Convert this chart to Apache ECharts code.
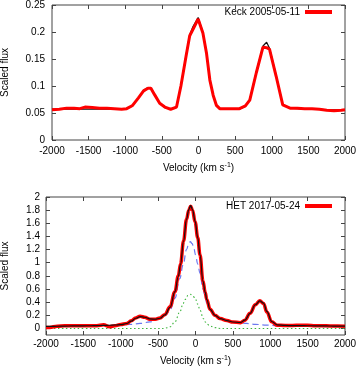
<!DOCTYPE html>
<html><head><meta charset="utf-8">
<script src="https://cdn.jsdelivr.net/npm/echarts@6/dist/echarts.min.js"></script>
<style>html,body{margin:0;padding:0;background:#fff}#c{width:357px;height:367px}</style>
</head><body><div id="c"></div>
<script>
var velTicks = [-2000,-1500,-1000,-500,0,500,1000,1500,2000];
var keckYTicks = [0,0.05,0.1,0.15,0.2,0.25];
var hetYTicks = [0,0.2,0.4,0.6,0.8,1,1.2,1.4,1.6,1.8,2];

var keckLabel = 'Keck 2005-05-11';
var hetLabel = 'HET 2017-05-24';

var keckVel = [-2000,-1900,-1800,-1700,-1620,-1550,-1450,-1350,-1250,-1150,-1050,-980,-900,-820,-750,-690,-650,-600,-530,-460,-380,-300,-240,-170,-120,-75,-5,60,110,155,200,245,290,380,470,560,640,700,790,880,930,970,1060,1150,1250,1350,1450,1550,1650,1750,1850,1950,2000];
var keckFlux = [0.056,0.057,0.059,0.059,0.058,0.061,0.060,0.059,0.059,0.058,0.057,0.058,0.064,0.078,0.091,0.096,0.096,0.084,0.068,0.061,0.057,0.061,0.100,0.155,0.193,0.205,0.224,0.198,0.160,0.111,0.083,0.064,0.058,0.058,0.058,0.058,0.063,0.074,0.125,0.172,0.171,0.168,0.118,0.065,0.059,0.059,0.058,0.058,0.057,0.055,0.054,0.055,0.056];
var keckModel = [0.057,0.057,0.057,0.057,0.057,0.057,0.057,0.057,0.057,0.057,0.057,0.058,0.063,0.078,0.092,0.097,0.096,0.085,0.068,0.060,0.057,0.062,0.102,0.157,0.195,0.210,0.227,0.200,0.162,0.113,0.082,0.063,0.058,0.057,0.057,0.057,0.062,0.075,0.127,0.174,0.181,0.170,0.120,0.066,0.059,0.058,0.057,0.057,0.057,0.056,0.056,0.056,0.056];

var hetVel = [-2000,-1950,-1850,-1750,-1650,-1500,-1400,-1320,-1230,-1150,-1080,-1000,-920,-860,-800,-740,-680,-610,-540,-475,-410,-340,-275,-230,-200,-160,-120,-90,-65,-40,-5,30,60,100,130,150,195,260,330,420,500,600,660,730,800,860,910,955,1020,1090,1200,1300,1400,1500,1600,1700,1800,1900,2000];
var hetFlux = [0.015,0.015,0.035,0.04,0.04,0.04,0.04,0.042,0.055,0.025,0.04,0.06,0.075,0.115,0.16,0.185,0.17,0.14,0.14,0.16,0.21,0.33,0.56,0.80,0.98,1.33,1.66,1.80,1.86,1.80,1.62,1.38,1.12,0.72,0.55,0.44,0.29,0.20,0.15,0.12,0.097,0.088,0.125,0.23,0.36,0.42,0.38,0.25,0.10,0.05,0.045,0.045,0.048,0.05,0.042,0.04,0.038,0.036,0.035];
var hetModel = [0.03,0.03,0.033,0.036,0.038,0.04,0.041,0.043,0.046,0.048,0.052,0.058,0.075,0.11,0.155,0.18,0.17,0.145,0.14,0.155,0.205,0.32,0.56,0.79,0.98,1.33,1.66,1.81,1.87,1.81,1.63,1.38,1.12,0.72,0.55,0.44,0.29,0.20,0.15,0.12,0.098,0.09,0.125,0.23,0.36,0.42,0.385,0.26,0.105,0.055,0.045,0.043,0.042,0.041,0.04,0.038,0.037,0.035,0.034];

var hetBroadVel = [-2000,-1500,-1200,-1000,-880,-740,-610,-480,-400,-340,-275,-210,-165,-120,-90,-70,-45,-20,0,30,60,100,130,150,195,250,330,420,505,600,685,800,950,1100,1220,1500,2000];
var hetBroad = [0.025,0.03,0.04,0.05,0.06,0.076,0.10,0.15,0.20,0.28,0.46,0.76,0.97,1.20,1.29,1.32,1.29,1.21,1.12,0.98,0.84,0.60,0.47,0.38,0.28,0.20,0.15,0.12,0.10,0.085,0.076,0.062,0.05,0.042,0.036,0.03,0.025];

var hetNarrowVel = [-2000,-420,-380,-340,-275,-210,-165,-140,-100,-70,-40,-5,30,60,105,130,150,195,260,330,2000];
var hetNarrow = [0,0,0.01,0.025,0.10,0.25,0.38,0.44,0.50,0.52,0.50,0.46,0.37,0.28,0.15,0.10,0.07,0.035,0.012,0,0];

function pairs(xs, ys){ return xs.map(function(x,i){ return [x, ys[i]]; }); }
function plain(v){ return String(v); }

var FONT = 'Liberation Sans, Arial, Helvetica, sans-serif';
var AX = '#444';
var nameRich = {
  n: {fontSize: 10, fontFamily: FONT, color: '#000', lineHeight: 13},
  s: {fontSize: 7, fontFamily: FONT, color: '#000', verticalAlign: 'top', lineHeight: 13}
};
function xMain(gi, gap, margin){
  return {type:'value', gridIndex: gi, min:-2000, max:2000, position:'bottom',
    axisLine:{show:false, onZero:false}, splitLine:{show:false},
    axisTick:{inside:true, length:4, lineStyle:{color:AX}, customValues:velTicks},
    axisLabel:{fontSize:10, fontFamily:FONT, color:'#000', margin: margin, customValues:velTicks, formatter:plain},
    name:'{n|Velocity (km s}{s|-1}{n|)}', nameLocation:'middle', nameGap: gap,
    nameTextStyle:{rich:nameRich}};
}
function xMirror(gi){
  return {type:'value', gridIndex: gi, min:-2000, max:2000, position:'top',
    axisLine:{show:false, onZero:false}, splitLine:{show:false},
    axisTick:{inside:true, length:4, lineStyle:{color:AX}, customValues:velTicks}, axisLabel:{show:false}};
}
var option = {
  animation:false,
  backgroundColor:'#fff',
  grid:[
    {left:52, right:12, top:5, height:135, show:true, borderColor:AX, borderWidth:1, backgroundColor:'transparent', outerBoundsMode:'none', containLabel:false},
    {left:46, right:12, top:197, height:138, show:true, borderColor:AX, borderWidth:1, backgroundColor:'transparent', outerBoundsMode:'none', containLabel:false}
  ],
  legend:[
    {data:[keckLabel], right:25, top:6, padding:0, align:'right', icon:'rect', itemWidth:27, itemHeight:4,
     selectedMode:false, textStyle:{fontSize:10, fontFamily:FONT, color:'#000', lineHeight:12}},
    {data:[hetLabel], right:25, top:200, padding:0, align:'right', icon:'rect', itemWidth:27, itemHeight:4,
     selectedMode:false, textStyle:{fontSize:10, fontFamily:FONT, color:'#000', lineHeight:12}}
  ],
  xAxis:[ xMain(0, 22, 6), xMirror(0), xMain(1, 20, 4), xMirror(1) ],
  yAxis:[
    {type:'value', gridIndex:0, min:0, max:0.25, position:'left',
     axisLine:{show:false, onZero:false}, splitLine:{show:false},
     axisTick:{inside:true, length:4, lineStyle:{color:AX}, customValues:keckYTicks},
     axisLabel:{fontSize:10, fontFamily:FONT, color:'#000', margin:7, customValues:keckYTicks, formatter:plain},
     name:'Scaled flux', nameLocation:'middle', nameGap:42,
     nameTextStyle:{fontSize:10, fontFamily:FONT, color:'#000'}},
    {type:'value', gridIndex:0, min:0, max:0.25, position:'right',
     axisLine:{show:false, onZero:false}, splitLine:{show:false},
     axisTick:{inside:true, length:4, lineStyle:{color:AX}, customValues:keckYTicks}, axisLabel:{show:false}},
    {type:'value', gridIndex:1, min:-0.1, max:2, position:'left',
     axisLine:{show:false, onZero:false}, splitLine:{show:false},
     axisTick:{inside:true, length:4, lineStyle:{color:AX}, customValues:hetYTicks},
     axisLabel:{fontSize:10, fontFamily:FONT, color:'#000', margin:6, customValues:hetYTicks, formatter:plain},
     name:'Scaled flux', nameLocation:'middle', nameGap:36,
     nameTextStyle:{fontSize:10, fontFamily:FONT, color:'#000'}},
    {type:'value', gridIndex:1, min:-0.1, max:2, position:'right',
     axisLine:{show:false, onZero:false}, splitLine:{show:false},
     axisTick:{inside:true, length:4, lineStyle:{color:AX}, customValues:hetYTicks}, axisLabel:{show:false}}
  ],
  series:[
    {name:'Keck model', type:'line', xAxisIndex:0, yAxisIndex:0, data:pairs(keckVel, keckModel),
     showSymbol:false, symbol:'none', lineStyle:{color:'#111', width:1.2}, z:2},
    {name:keckLabel, type:'line', xAxisIndex:0, yAxisIndex:0, data:pairs(keckVel, keckFlux),
     showSymbol:false, symbol:'none', color:'#f00', lineStyle:{color:'#f00', width:3}, z:3},
    {name:'HET broad', type:'line', xAxisIndex:2, yAxisIndex:2, data:pairs(hetBroadVel, hetBroad),
     showSymbol:false, symbol:'none', smooth:0.4, smoothMonotone:'x',
     lineStyle:{color:'#6c79f0', width:1.2, type:[6,4]}, z:2},
    {name:'HET narrow', type:'line', xAxisIndex:2, yAxisIndex:2, data:pairs(hetNarrowVel, hetNarrow),
     showSymbol:false, symbol:'none', smooth:0.4, smoothMonotone:'x',
     lineStyle:{color:'#3cb43c', width:1.1, type:[1.5,2.5]}, z:2},
    {name:hetLabel, type:'line', xAxisIndex:2, yAxisIndex:2, data:pairs(hetVel, hetFlux),
     showSymbol:false, symbol:'none', smooth:0.4, smoothMonotone:'x', color:'#f00',
     lineStyle:{color:'#f00', width:3.5}, z:3},
    {name:'HET model', type:'line', xAxisIndex:2, yAxisIndex:2, data:pairs(hetVel, hetModel),
     showSymbol:false, symbol:'none', smooth:0.4, smoothMonotone:'x',
     lineStyle:{color:'#111', width:1.2}, z:4}
  ]
};
var chart = echarts.init(document.getElementById('c'), null, {renderer:'canvas'});
chart.setOption(option);
</script></body></html>
